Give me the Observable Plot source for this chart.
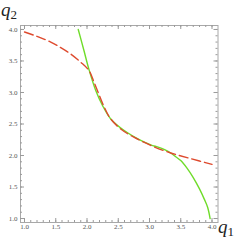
<!DOCTYPE html>
<html>
<head>
<meta charset="utf-8">
<script src="https://cdn.jsdelivr.net/npm/d3@7"></script>
<script src="https://cdn.jsdelivr.net/npm/@observablehq/plot@0.6"></script>
<style>
  html, body { margin: 0; padding: 0; background: #fff; }
  #chart { width: 245px; height: 242px; }
</style>
</head>
<body>
<div id="chart"></div>
<script>
// Red dashed curve
const redQ1 = [1.0, 1.2, 1.42, 1.6, 1.74, 1.9, 2.03, 2.11, 2.19, 2.27, 2.38, 2.54, 2.75, 3.02, 3.34, 3.66, 4.0];
const redQ2 = [3.96, 3.89, 3.80, 3.70, 3.61, 3.48, 3.35, 3.17, 2.97, 2.78, 2.58, 2.42, 2.29, 2.16, 2.04, 1.95, 1.86];
// Green solid curve
const greenQ1 = [1.86, 1.95, 2.03, 2.14, 2.25, 2.38, 2.59, 2.86, 3.02, 3.15, 3.25, 3.34, 3.42, 3.5, 3.6, 3.7, 3.8, 3.88, 3.93, 3.97];
const greenQ2 = [4.0, 3.67, 3.37, 3.03, 2.79, 2.58, 2.40, 2.24, 2.17, 2.13, 2.09, 2.04, 1.98, 1.92, 1.80, 1.65, 1.47, 1.30, 1.18, 1.0];
// Ticks
const majorTicks = [1.0, 1.5, 2.0, 2.5, 3.0, 3.5, 4.0];
const minorTicks = d3.range(10, 41).map(d => d / 10);

const red = redQ1.map((x, i) => ({x, y: redQ2[i]}));
const green = greenQ1.map((x, i) => ({x, y: greenQ2[i]}));

const W = 245, H = 242;
const mL = 20, mR = 27.5, mT = 25, mB = 20;
const pw = W - mL - mR, ph = H - mT - mB;
const tickColor = "#9a9a9a";

const plot = Plot.plot({
  width: W, height: H,
  marginLeft: mL, marginRight: mR, marginTop: mT, marginBottom: mB,
  x: {domain: [0.936, 4.096], label: null},
  y: {domain: [0.937, 4.063], label: null},
  style: {fontFamily: "'Liberation Serif', serif", background: "white"},
  marks: [
    Plot.frame({stroke: "#a8a8a8", strokeWidth: 1}),
    // inward ticks bottom/top
    Plot.tickX(minorTicks, {x: d => d, stroke: tickColor, insetTop: ph - 2}),
    Plot.tickX(majorTicks, {x: d => d, stroke: tickColor, insetTop: ph - 4}),
    Plot.tickX(minorTicks, {x: d => d, stroke: tickColor, insetBottom: ph - 2}),
    Plot.tickX(majorTicks, {x: d => d, stroke: tickColor, insetBottom: ph - 4}),
    // inward ticks left/right
    Plot.tickY(minorTicks, {y: d => d, stroke: tickColor, insetRight: pw - 2}),
    Plot.tickY(majorTicks, {y: d => d, stroke: tickColor, insetRight: pw - 4}),
    Plot.tickY(minorTicks, {y: d => d, stroke: tickColor, insetLeft: pw - 2}),
    Plot.tickY(majorTicks, {y: d => d, stroke: tickColor, insetLeft: pw - 4}),
    Plot.axisX({ticks: majorTicks, tickSize: 0, tickPadding: 2, tickFormat: d3.format(".1f"), fontSize: 7, fill: "#555", label: null}),
    Plot.axisY({ticks: majorTicks, tickSize: 0, tickPadding: 3, tickFormat: d3.format(".1f"), fontSize: 7, fill: "#555", label: null}),
    Plot.line(green, {x: "x", y: "y", stroke: "#6fdc2a", strokeWidth: 1.4, curve: "catmull-rom"}),
    Plot.line(red, {x: "x", y: "y", stroke: "#de4a2e", strokeWidth: 1.4, strokeDasharray: "9,4", curve: "catmull-rom"})
  ]
});

const svg = d3.select(plot);
function addLabel(x, y, sub) {
  const t = svg.append("text")
    .attr("x", x).attr("y", y)
    .attr("font-family", "'Liberation Serif', serif")
    .attr("fill", "#222");
  t.append("tspan").attr("font-style", "italic").attr("font-size", 19).text("q");
  t.append("tspan").attr("font-size", 13).attr("dy", 3).text(sub);
}
addLabel(9, 16, "2");
addLabel(226, 233, "1");

document.getElementById("chart").appendChild(plot);
</script>
</body>
</html>
